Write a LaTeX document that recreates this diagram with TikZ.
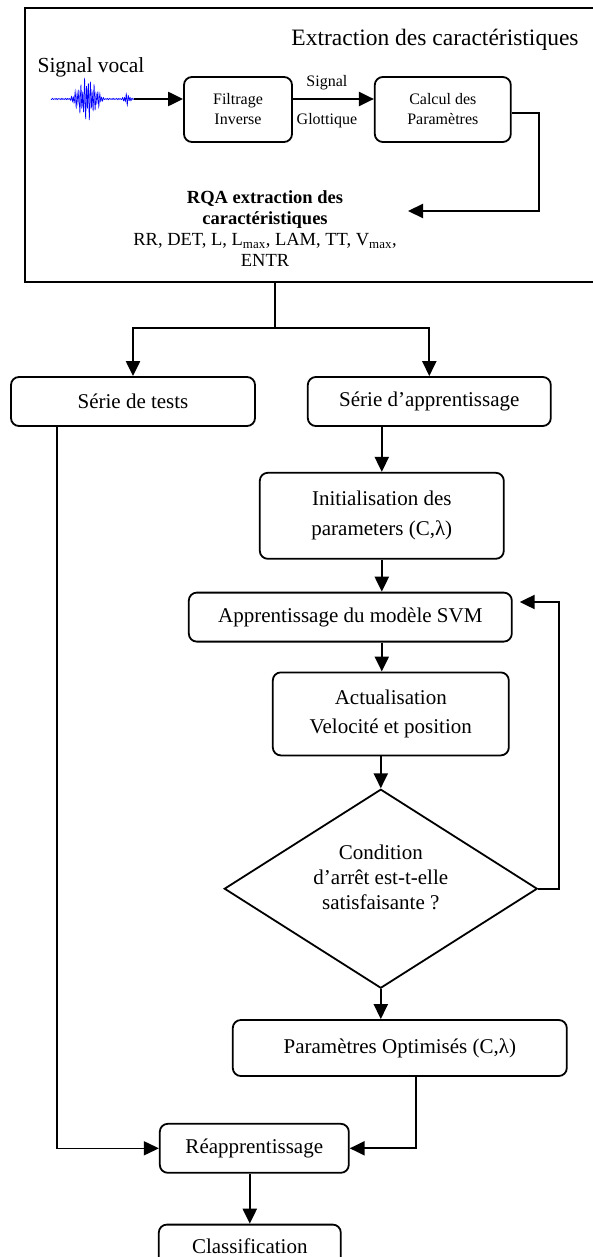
\documentclass[tikz,border=0pt]{standalone}
\usepackage{fontspec}
\setmainfont{Liberation Serif}
\usetikzlibrary{shapes.geometric,arrows.meta,positioning}

\begin{document}
\begin{tikzpicture}[x=1pt,y=-1pt,
  frame/.style={rectangle,draw,line width=1.8pt,inner sep=0pt},
  box/.style={rectangle,rounded corners=8pt,draw,line width=1.8pt,inner sep=0pt,
              align=center,font=\fontsize{21}{25}\selectfont},
  smallbox/.style={box,font=\fontsize{16}{20}\selectfont},
  decision/.style={diamond,aspect=1.57,draw,line width=1.8pt,inner sep=0pt,
              align=center,font=\fontsize{21}{25}\selectfont},
  arr/.style={-{Triangle[length=15pt,width=14pt]},line width=2.2pt},
  link/.style={line width=2.2pt},
  thinlink/.style={line width=1.4pt},
  lbl/.style={inner sep=2pt,font=\fontsize{16}{20}\selectfont}
]
  \useasboundingbox (0,0) rectangle (593,1257);

  % extraction block
  \node[frame,minimum width=595pt,minimum height=274pt] (extr) at (322.5,145) {};
  \node[font=\fontsize{23.5}{28}\selectfont] (title) at (435,40) {Extraction des caractéristiques};
  \node[font=\fontsize{21.5}{26}\selectfont] (voc) at (91,67) {Signal vocal};
  \draw[blue,line width=0.6pt] plot[domain=0:83,samples=300]
    (51+\x,{99+(24*max(0,1-abs(\x-36)/17)+6*max(0,1-abs(\x-76)/5)+0.8)*(0.7*sin(\x*190)+0.3*cos(\x*113))});
  \coordinate (wave) at (134,99);

  \node[smallbox,minimum width=108pt,minimum height=65pt] (filt) at (238,109.5) {Filtrage\\Inverse};
  \node[smallbox,minimum width=136pt,minimum height=65pt,right=81pt of filt] (calc) {Calcul des\\Paramètres};
  \node[inner sep=0pt,align=center,font=\fontsize{18.5}{21}\selectfont] (rqa) at (265,228.5)
    {\textbf{RQA extraction des}\\\textbf{caractéristiques}\\RR, DET, L, L\textsubscript{max}, LAM, TT, V\textsubscript{max},\\ENTR};
  \coordinate (bend) at (539,211);
  \coordinate (rqain) at (408,211);

  \draw[arr] (wave) -- (wave -| filt.west);
  \draw[arr] (filt.east |- wave) -- node[lbl,above=6pt,pos=0.42] {Signal}
    node[lbl,below=11pt,pos=0.42] {Glottique} (calc.west |- wave);
  \draw[arr] ([yshift=-3.5pt]calc.east) -| (bend) -- (rqain);

  % classification chain
  \node[box,minimum width=244pt,minimum height=49pt] (tests) at (133,401.5) {Série de tests};
  \node[box,minimum width=243pt,minimum height=49pt,right=51pt of tests] (appr) {Série d’apprentissage};
  \node[box,minimum width=244pt,minimum height=86pt,below=45pt of appr,xshift=-47.5pt] (init)
    {Initialisation des\\[5pt]parameters (C,λ)};
  \node[box,minimum width=323pt,minimum height=49pt,below=32pt of init,xshift=-31.5pt] (svm)
    {Apprentissage du modèle SVM};
  \node[box,minimum width=236pt,minimum height=83pt,below=29pt of svm,xshift=40.5pt] (actu)
    {Actualisation\\[4pt]Velocité et position};
  \node[decision,minimum width=313pt,minimum height=199pt,below=32pt of actu,xshift=-10pt] (cond)
    {Condition\\d’arrêt est-t-elle\\satisfaisante ?\\[-3pt]\mbox{}};
  \node[box,minimum width=334pt,minimum height=56pt,below=30pt of cond,xshift=19pt] (param)
    {Paramètres Optimisés (C,λ)};
  \node[box,minimum width=189pt,minimum height=49pt,below=46pt of param,xshift=-145.5pt] (reap)
    {Réapprentissage};
  \node[box,minimum width=182pt,minimum height=43pt,below=50pt of reap,xshift=-4.5pt] (class)
    {Classification};

  \coordinate (split) at (275,328);
  \coordinate (loop) at (559,602);

  \draw[link] (split |- extr.south) -- (split);
  \draw[arr] (split) -| (tests.north);
  \draw[arr] (split) -| (appr.north);
  \draw[arr] (init.north |- appr.south) -- (init.north);
  \draw[arr] (init.south) -- (init.south |- svm.north);
  \draw[arr] (svm.south -| init.south) -- (actu.north -| init.south);
  \draw[arr] (cond.north |- actu.south) -- (cond.north);
  \draw[arr,shorten >=7pt] (cond.east) -| (loop) -- (loop -| svm.east);
  \draw[arr] (cond.south) -- (cond.south |- param.north);
  \draw[arr] ([xshift=16pt]param.south) |- (reap.east);
  \draw[arr,thinlink] ([xshift=-76pt]tests.south) |- (reap.west);
  \draw[arr] (class.north |- reap.south) -- (class.north);
\end{tikzpicture}
\end{document}
